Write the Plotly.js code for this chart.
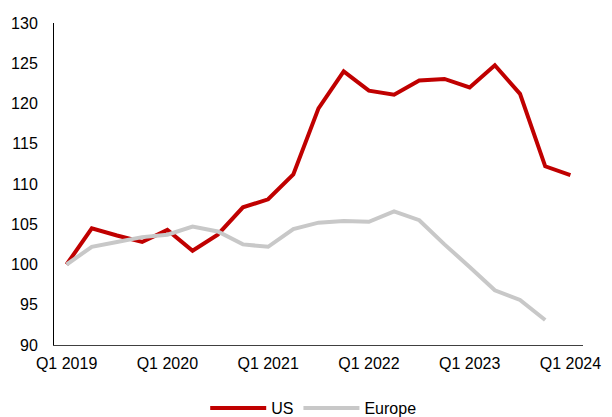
<!DOCTYPE html>
<html>
<head>
<meta charset="utf-8">
<script src="https://cdn.plot.ly/plotly-3.0.1.min.js"></script>
<style>html,body{margin:0;padding:0;background:#fff;}#chart{width:612px;height:417px;}</style>
</head>
<body>
<div id="chart"></div>
<script>
const quarters = [
  "Q1 2019","Q2 2019","Q3 2019","Q4 2019",
  "Q1 2020","Q2 2020","Q3 2020","Q4 2020",
  "Q1 2021","Q2 2021","Q3 2021","Q4 2021",
  "Q1 2022","Q2 2022","Q3 2022","Q4 2022",
  "Q1 2023","Q2 2023","Q3 2023","Q4 2023",
  "Q1 2024"
];
const usValues = [100, 104.5, 103.6, 102.8, 104.3, 101.7, 103.7, 107.1, 108.1, 111.2, 119.4, 124.0, 121.6, 121.1, 122.85, 123.05, 122.0, 124.75, 121.2, 112.2, 111.1];
const europeValues = [100, 102.2, 102.8, 103.4, 103.7, 104.7, 104.1, 102.5, 102.2, 104.4, 105.2, 105.4, 105.3, 106.6, 105.5, 102.5, 99.7, 96.8, 95.6, 93.1, null];
const tickLabels = ["Q1 2019","Q1 2020","Q1 2021","Q1 2022","Q1 2023","Q1 2024"];

const font = {family: "Liberation Sans, Arial, sans-serif", size: 16, color: "#000"};

const traces = [
  {x: quarters, y: usValues, type: "scatter", mode: "lines", name: "US",
   line: {color: "#C00000", width: 4}},
  {x: quarters, y: europeValues, type: "scatter", mode: "lines", name: "Europe",
   line: {color: "#C8C8C8", width: 4}, connectgaps: false}
];

const layout = {
  width: 612, height: 417,
  margin: {l: 54, r: 29, t: 23, b: 72, autoexpand: false},
  paper_bgcolor: "#fff", plot_bgcolor: "#fff",
  font: font,
  showlegend: true,
  legend: {orientation: "h", x: 0.49, xanchor: "center", y: -0.196, yanchor: "middle",
           font: font, itemwidth: 56},
  xaxis: {
    type: "category", range: [-0.5, 20.5],
    tickmode: "array", tickvals: tickLabels, ticktext: tickLabels,
    showgrid: false, zeroline: false,
    showline: true, linecolor: "#404040", linewidth: 1,
    ticks: "", tickfont: font, ticklabelstandoff: 4, fixedrange: true
  },
  yaxis: {
    range: [90, 130], dtick: 5, tick0: 90,
    showgrid: false, zeroline: false,
    showline: true, linecolor: "#000", linewidth: 1,
    ticks: "", tickfont: font, ticklabelstandoff: 12, fixedrange: true
  }
};

Plotly.newPlot("chart", traces, layout, {displayModeBar: false, staticPlot: true});
</script>
</body>
</html>
